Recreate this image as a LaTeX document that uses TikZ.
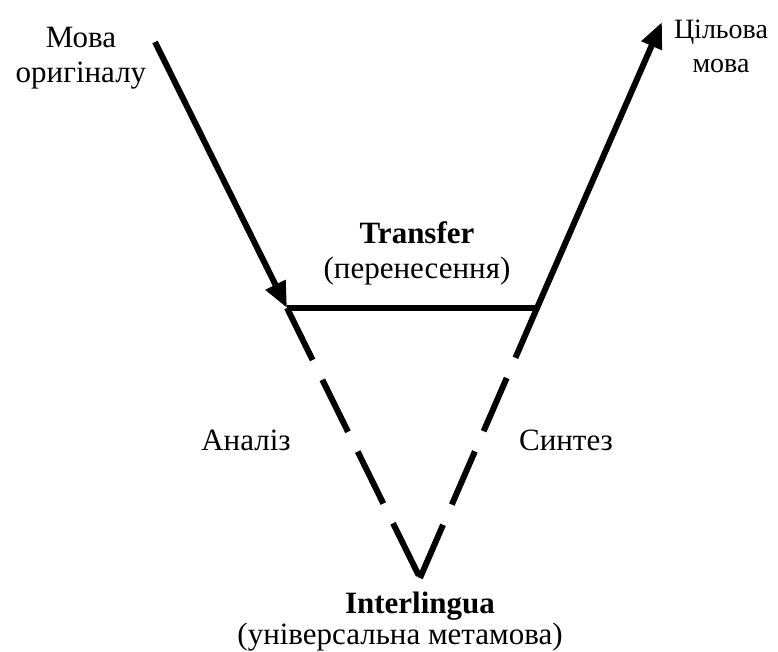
\documentclass[tikz,border=0pt]{standalone}
\usepackage{fontspec}
\setmainfont{Liberation Serif}
\usepackage{tikz}
\usetikzlibrary{arrows.meta, positioning}

\begin{document}
\begin{tikzpicture}[
    x=1pt, y=-1pt,
    line/.style={line width=6pt},
    arrow/.style={line width=6pt, -{Triangle[length=26pt, width=21pt]}},
    dashline/.style={line width=6pt, dash pattern=on 58pt off 22pt},
    label/.style={align=center, inner sep=0pt, anchor=base},
    every node/.append style={font=\fontsize{31}{35}\selectfont}
]
    \useasboundingbox (0,0) rectangle (778,651);

    % Corners
    \coordinate (src) at (155,42);
    \coordinate (left) at (287,308);
    \coordinate (right) at (537,308);
    \coordinate (tgt) at (662,22);
    \coordinate (apex) at (420,578);

    % Labels (base = last line)
    \node[label] (source) at (81,82) {Мова\\оригіналу};
    \node[label, font=\fontsize{28}{34}\selectfont] (target) at (721,72) {Цільова\\мова};
    \node[label] (transfer) at (417,278) {\textbf{Transfer}\\(перенесення)};
    \node[label] (analysis) at (246,450) {Аналіз};
    \node[label] (synthesis) at (566,450) {Синтез};
    \node[label] (inter) at (420,613) {\textbf{Interlingua}};
    \node[label] (interdesc) at (400,644) {(універсальна метамова)};

    % Connections
    \draw[arrow] (src) -- (left);
    \draw[line] (left) -- (right);
    \draw[arrow] (right) -- (tgt);
    \draw[dashline] (left) -- (apex);
    \draw[dashline] (apex) -- (right);

\end{tikzpicture}
\end{document}
